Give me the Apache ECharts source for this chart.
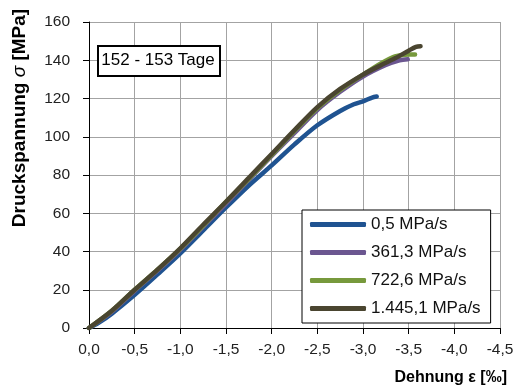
<!DOCTYPE html>
<html>
<head>
<meta charset="utf-8">
<script src="https://cdn.jsdelivr.net/npm/echarts@6/dist/echarts.min.js"></script>
<style>html,body{margin:0;padding:0;background:#fff}#c{width:517px;height:387px}</style>
</head>
<body>
<div id="c"></div>
<script>
// Strain [‰] (negative = compression) and stress [MPa]
const seriesNames = ['0,5 MPa/s', '361,3 MPa/s', '722,6 MPa/s', '1.445,1 MPa/s'];
const strain05 =  [0, -0.1, -0.25, -0.5, -0.75, -1.0, -1.25, -1.5, -1.75, -2.0, -2.25, -2.5, -2.75, -2.9, -3.0, -3.1, -3.15];
const stress05 =  [0, 2.5, 7.5, 17.3, 28, 39, 51, 63, 74.5, 85, 96, 106, 113.5, 117, 118.5, 120.5, 121];
const strain361 = [0, -0.25, -0.5, -0.75, -1.0, -1.25, -1.5, -1.75, -2.0, -2.25, -2.5, -2.75, -3.0, -3.25, -3.4, -3.49];
const stress361 = [0, 8.5, 19.5, 30, 41, 53, 65, 77.5, 90, 102, 114, 123.5, 131.5, 137.5, 140, 140.5];
const strain722 = [0, -0.25, -0.5, -0.75, -1.0, -1.25, -1.5, -1.75, -2.0, -2.25, -2.5, -2.75, -3.0, -3.2, -3.35, -3.5, -3.57];
const stress722 = [0, 9, 20, 30.5, 41.5, 53.5, 66, 78, 90.5, 103, 115, 124.5, 132.5, 138.5, 142, 143, 143];
const strain1445 = [0, -0.25, -0.5, -0.75, -1.0, -1.25, -1.5, -1.75, -2.0, -2.25, -2.5, -2.75, -3.0, -3.2, -3.35, -3.5, -3.58, -3.63];
const stress1445 = [0, 9, 20, 30.5, 41.7, 54, 66, 78.5, 91, 103.5, 115.5, 125, 132.5, 137.5, 141, 145, 147, 147.3];
const colors = ['#1f5391', '#6b5690', '#77993c', '#4a4530'];
const xMin = -4.5, xMax = 0, xStep = 0.5;
const yMin = 0, yMax = 160, yStep = 20;
const boxLabel = '152 - 153 Tage';

const pairs = (xs, ys) => xs.map((x, i) => [x, ys[i]]);
const allData = [pairs(strain05, stress05), pairs(strain361, stress361), pairs(strain722, stress722), pairs(strain1445, stress1445)];

const chart = echarts.init(document.getElementById('c'), null, {renderer: 'canvas'});
const fontReg = '"Liberation Sans", Arial, sans-serif';
chart.setOption({
  animation: false,
  backgroundColor: '#fff',
  grid: {left: 89, right: 17, top: 22, bottom: 59},
  xAxis: {
    type: 'value', min: xMin, max: xMax, interval: xStep, inverse: true,
    axisLine: {show: true, onZero: false, lineStyle: {color: '#000', width: 1}},
    axisTick: {show: true, length: 6, lineStyle: {color: '#000'}},
    splitLine: {show: true, lineStyle: {color: '#a3a3a3', width: 1}},
    axisLabel: {margin: 14, color: '#222', fontSize: 15.5, fontFamily: fontReg,
      formatter: v => (v === 0 ? '0,0' : v.toFixed(1).replace('.', ','))}
  },
  yAxis: {
    type: 'value', min: yMin, max: yMax, interval: yStep,
    axisLine: {show: true, lineStyle: {color: '#000', width: 1}},
    axisTick: {show: true, length: 6, lineStyle: {color: '#000'}},
    splitLine: {show: true, lineStyle: {color: '#a3a3a3', width: 1}},
    axisLabel: {margin: 19, color: '#222', fontSize: 15.5, fontFamily: fontReg}
  },
  legend: {
    orient: 'vertical', left: 302, top: 210,
    padding: [6, 10, 6, 8], itemGap: 11, itemWidth: 56, itemHeight: 5,
    borderColor: '#000', borderWidth: 1, backgroundColor: '#fff',
    icon: 'roundRect',
    textStyle: {fontSize: 17, fontFamily: fontReg, color: '#111'},
    data: seriesNames
  },
  graphic: [
    {type: 'rect', left: 97, top: 45, z: 100, shape: {x: 0, y: 0, width: 122, height: 30},
      style: {fill: '#fff', stroke: '#000', lineWidth: 2}},
    {type: 'text', x: 158, y: 60, z: 101,
      style: {text: boxLabel, font: '17px ' + fontReg, fill: '#000', align: 'center', verticalAlign: 'middle'}},
    {type: 'text', x: 20, y: 118, rotation: Math.PI / 2, z: 100,
      style: {text: '{b|Druckspannung }{s|σ}{b| [MPa]}', align: 'center', verticalAlign: 'middle',
        rich: {b: {font: 'bold 19px ' + fontReg, fill: '#000'}, s: {font: 'italic 19px ' + fontReg, fill: '#000'}}}},
    {type: 'text', x: 507, y: 378, z: 100,
      style: {text: 'Dehnung ε [‰]', font: 'bold 16px ' + fontReg, fill: '#000', align: 'right', verticalAlign: 'middle'}}
  ],
  series: allData.map((d, i) => ({
    name: seriesNames[i], type: 'line', data: d, smooth: 0.3,
    showSymbol: false, symbol: 'none',
    lineStyle: {color: colors[i], width: 4.5, cap: 'round', join: 'round'},
    itemStyle: {color: colors[i]},
    emphasis: {disabled: true}
  }))
});
</script>
</body>
</html>
